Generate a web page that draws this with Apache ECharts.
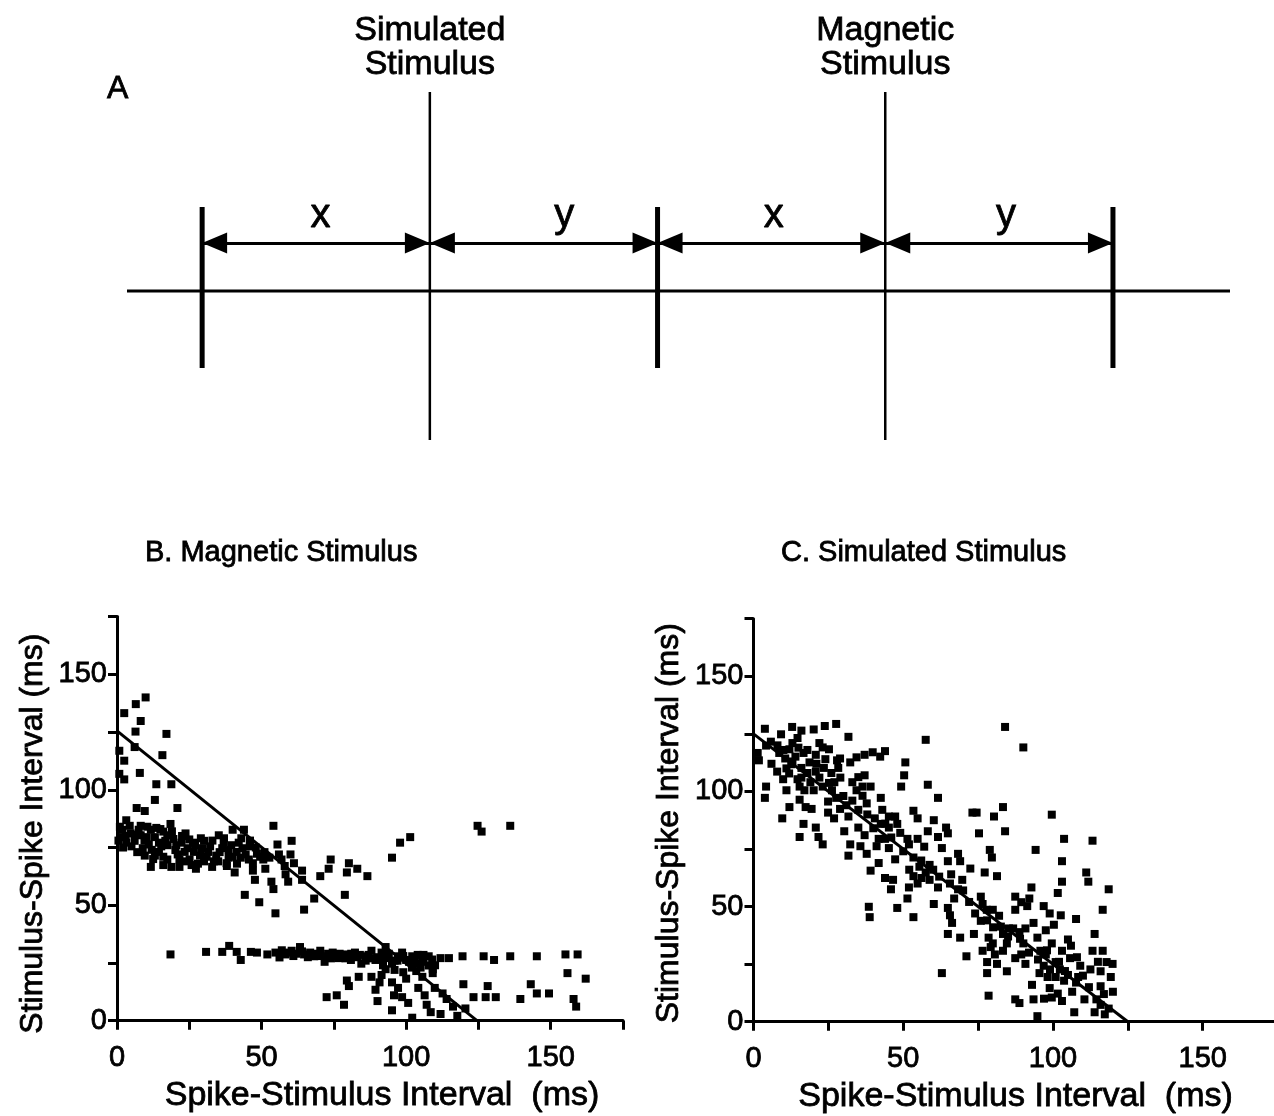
<!DOCTYPE html>
<html><head><meta charset="utf-8">
<script src="https://cdn.jsdelivr.net/npm/echarts@6/dist/echarts.min.js"></script>
<style>html,body{margin:0;padding:0;background:#fff}#c{width:1274px;height:1116px}</style>
</head><body><div id="c"></div>
<script>
// ---------------- Panel A: schematic timeline (time units) ----------------
const spikeTimes = [0, 200, 400];
const stimTimes = [100, 300];
const stimNames = ['Simulated\nStimulus', 'Magnetic\nStimulus'];
const intervalNames = ['x', 'y', 'x', 'y'];

// ---------------- Panel B: Magnetic stimulus [spike-stimulus, stimulus-spike] ----------------
const magneticPoints = [
[9.9,140.0],[6.5,137.1],[2.5,133.2],[8.2,129.8],[6.4,125.2],[17.1,124.2],[6.1,118.5],[0.8,116.9],[2.5,112.6],[15.7,115.0],
[7.9,107.3],[0.8,106.9],[2.5,104.5],[13.6,102.4],[18.8,102.4],[13.1,95.6],[20.9,92.1],[6.8,92.1],[9.6,90.8],
[3.2,86.8],[4.4,84.4],[1.8,82.7],[8.2,84.4],[13.6,83.5],[18.5,85.2],[16.0,81.9],[11.7,82.7],[8.2,80.3],[2.1,75.0],
[3.2,77.1],[6.1,77.9],[8.9,74.7],[11.0,76.3],[14.5,77.1],[16.7,77.9],[9.6,71.5],[11.7,66.6],[14.5,73.1],[17.4,69.8],
[18.8,66.6],[21.6,69.8],[20.2,73.9],[23.7,81.1],[26.3,77.1],[23.4,73.1],[27.3,65.8],[25.1,69.8],[30.1,77.9],[31.5,73.1],
[32.9,66.6],[28.7,71.5],[35.2,80.3],[36.4,74.7],[37.9,68.2],[40.0,82.7],[41.4,73.1],[43.9,82.7],[43.4,74.7],[45.6,69.8],
[40.7,64.2],[44.2,54.5],[48.4,72.3],[47.7,61.0],[49.2,51.3],[47.0,65.0],[51.3,65.8],[53.4,60.2],[54.1,84.4],[52.7,70.6],
[55.5,76.3],[54.1,57.0],[54.8,46.5],[56.9,69.8],[58.3,63.4],[60.4,77.9],[61.2,68.2],[59.2,60.2],[64.0,65.0],[64.7,48.1],
[64.0,61.0],[68.2,52.9],[70.3,62.6],[73.9,69.8],[73.2,65.8],[78.8,54.5],[80.2,68.2],[79.5,64.2],[83.1,65.8],[86.6,62.6],
[95.1,70.6],[97.9,77.1],[101.4,79.5],[124.7,84.4],[126.1,81.9],[136.0,84.4],
[1.8,79.5],[4.7,81.1],[7.5,82.7],[10.3,79.5],[13.1,79.5],[15.3,75.5],[17.4,80.3],[19.5,78.7],[22.3,77.1],[24.4,74.7],
[26.6,73.1],[29.4,74.7],[32.2,75.5],[34.3,71.5],[36.9,77.1],[38.6,70.6],[42.1,77.1],[45.9,75.5],[35.0,69.0],[30.1,69.0],
[21.6,66.6],[25.8,67.4],[13.1,71.5],[16.0,67.4],[47.0,68.2],[50.6,69.8],[38.6,73.9],[42.8,70.6],
[0.5,78.0],[1.0,84.0],[3.0,80.0],[5.0,75.5],[6.5,80.5],[7.0,73.0],[9.5,78.0],[10.5,84.0],[12.0,74.0],[12.5,70.0],
[15.0,83.0],[16.0,71.0],[17.5,76.0],[19.0,82.0],[20.5,76.0],[21.0,72.0],[22.5,80.0],[24.0,69.0],[25.0,78.5],[27.0,76.0],
[28.0,68.0],[29.0,79.0],[31.0,71.0],[33.0,78.0],[33.5,69.0],[35.5,73.0],[37.0,79.0],[38.0,67.0],[39.5,76.0],[40.0,71.0],
[41.5,68.0],[43.0,79.0],[44.5,72.0],[46.0,78.0],[48.0,75.0],[49.5,71.0],[51.0,73.0],[56.0,72.0],[58.0,67.0],[60.0,72.0],
[18.5,28.7],[30.8,29.8],[36.4,29.8],[38.8,32.4],[41.4,29.8],[42.8,26.3],[46.3,29.8],[48.4,29.5],[52.0,28.7],[54.8,29.5],
[56.2,27.4],[58.3,28.7],[60.4,30.3],[63.3,31.9],[64.7,28.7],[66.8,29.5],[68.2,27.9],[70.3,30.3],[71.8,25.5],[72.5,27.9],
[74.6,29.5],[76.7,27.1],[78.8,28.7],[80.9,26.3],[82.3,29.5],[84.5,24.7],[85.9,27.9],[88.0,30.3],[89.4,26.3],[91.5,29.5],
[92.9,31.9],[93.6,27.1],[95.1,24.7],[97.2,27.9],[98.6,29.5],[100.0,26.3],[102.1,27.9],[103.5,24.7],[105.6,27.1],[107.8,27.9],
[107.8,23.9],[111.9,27.1],[114.8,27.1],[119.5,27.9],[126.8,27.9],[130.4,26.3],[136.0,27.9],[145.2,27.9],[155.1,28.7],[159.3,28.7],
[155.8,20.6],[162.1,18.2],
[87.0,28.5],[90.0,27.5],[94.0,29.0],[96.0,26.0],[99.0,28.0],[101.0,25.5],[104.0,28.5],[106.0,25.5],[109.0,26.5],[110.0,24.0],
[96.0,22.0],[99.0,21.0],[102.0,23.0],[105.0,23.0],[86.0,26.0],[83.0,27.5],[77.0,29.0],[74.0,27.0],[69.0,29.0],[66.0,27.5],
[62.0,29.0],[59.0,29.5],[57.0,30.5],
[61.0,28.0],[64.0,30.0],[67.0,28.5],[70.0,28.0],[73.0,29.0],[76.0,28.0],[79.0,27.0],[81.0,29.0],[84.0,28.5],[88.0,27.0],
[91.0,27.0],[92.0,24.0],[97.0,26.0],[103.0,26.5],[106.0,28.5],
[72.5,10.2],[76.0,11.0],[78.5,6.9],[79.5,17.4],[80.2,15.0],[83.6,19.0],[88.0,19.0],[89.4,13.4],[90.1,8.5],[91.5,19.8],
[92.9,22.3],[95.1,16.6],[95.8,11.0],[95.1,4.5],[97.2,14.2],[98.6,10.2],[100.0,18.2],[100.7,7.7],[102.1,1.3],[103.5,21.5],
[104.2,14.2],[105.6,19.0],[106.4,11.0],[107.1,6.9],[108.5,3.7],[109.2,20.6],[109.9,14.2],[111.9,2.9],[112.6,11.8],[114.0,9.4],
[116.2,6.1],[117.7,2.1],[119.8,15.8],[120.5,5.3],[123.3,10.2],[127.5,10.2],[128.2,15.0],[131.0,10.2],[139.5,9.4],[143.1,15.8],
[145.2,11.8],[149.4,11.8],[157.9,9.4],[158.8,6.1],[109.2,22.3],[90.8,16.6]
];
const magneticFit = [[0, 125.5], [124.5, 0]];

// ---------------- Panel C: Simulated stimulus ----------------
const simulatedPoints = [
[3.8,127.2],[1.4,116.7],[1.8,113.5],[4.2,119.9],[5.8,121.6],[9.2,124.8],[12.9,128.0],[16.0,126.4],[20.1,126.9],[23.8,128.4],
[27.6,129.3],[31.7,123.7],[14.7,123.2],[8.6,116.7],[12.0,118.3],[14.0,115.1],[16.7,116.7],[18.7,112.6],[20.8,115.9],[23.1,119.1],
[25.2,118.3],[27.9,113.5],[23.5,110.2],[20.8,108.6],[16.0,110.2],[12.6,111.8],[10.6,114.3],[7.9,108.6],[9.9,105.3],[11.9,107.8],
[14.7,105.3],[17.0,100.5],[15.4,102.1],[4.2,102.1],[3.8,97.2],[11.0,100.5],[12.0,93.2],[9.6,88.3],[15.4,96.4],[17.4,93.2],
[19.4,92.4],[16.7,85.9],[15.4,80.2],[20.8,84.3],[23.1,77.0],[21.7,80.2],[20.1,100.5],[23.1,102.1],[25.2,103.7],[26.2,100.5],
[28.3,110.2],[28.9,114.3],[32.3,112.6],[34.4,114.8],[37.1,115.9],[39.8,117.0],[43.9,117.5],[42.3,115.1],[24.9,95.6],[27.6,97.2],
[28.9,92.4],[24.9,90.8],[26.9,88.3],[31.0,94.0],[31.7,89.1],[30.3,82.7],[32.3,77.0],[31.7,72.1],[34.4,100.5],[36.4,98.1],
[37.8,94.8],[35.0,106.2],[36.4,102.1],[37.1,107.0],[39.1,102.1],[35.0,84.3],[37.1,81.0],[35.7,76.2],[37.8,72.9],[39.1,65.6],
[41.8,68.9],[42.5,97.2],[40.5,88.3],[42.5,85.9],[41.8,79.4],[41.1,76.2],[45.2,89.1],[47.3,89.1],[48.0,85.9],[45.2,84.3],
[43.9,79.4],[45.2,75.4],[47.3,70.5],[43.9,62.4],[46.6,61.6],[45.9,57.5],[48.0,49.4],[38.5,49.9],[38.8,45.4],[53.4,45.4],
[49.3,102.1],[50.3,107.0],[50.7,112.6],[51.4,79.4],[51.9,77.0],[53.4,91.6],[54.8,88.3],[54.8,79.4],[53.4,71.3],[55.4,67.3],
[53.4,63.2],[51.9,58.3],[51.4,53.5],[54.8,60.0],[56.1,62.4],[57.5,122.4],[58.2,102.9],[58.2,82.7],[58.8,68.1],[58.8,61.6],
[57.5,64.8],[60.2,87.5],[61.6,80.2],[62.9,75.4],[64.3,84.3],[64.9,81.8],[61.6,97.2],[60.2,51.1],[62.9,21.1],[61.6,58.3],
[64.9,69.7],[65.6,60.0],[64.9,49.4],[65.6,46.2],[64.9,38.1],[66.3,42.9],[68.3,72.9],[69.0,69.7],[69.7,61.6],[68.3,57.5],
[67.0,53.5],[69.0,36.5],[71.1,28.4],[72.4,66.5],[73.1,90.8],[74.5,90.8],[75.3,81.8],[75.9,54.3],[76.5,51.1],[75.9,43.8],
[73.6,38.1],[76.5,30.8],[78.0,25.9],[80.3,89.1],[78.9,74.6],[79.6,71.3],[77.2,64.8],[81.3,63.2],[77.9,48.6],[79.9,48.6],
[78.5,36.5],[79.9,34.0],[80.6,29.2],[79.2,32.4],[78.0,21.1],[78.5,11.3],[81.3,25.1],[83.3,93.2],[84.0,128.0],[84.0,82.7],
[82.6,41.3],[83.3,38.1],[84.6,34.0],[84.6,21.9],[86.7,40.5],[87.4,54.3],[89.4,51.9],[90.1,119.1],[87.4,9.7],[88.8,8.1],
[90.1,34.0],[89.4,29.2],[90.8,25.1],[91.4,50.2],[92.1,53.5],[92.8,58.3],[93.5,42.9],[94.2,74.6],[94.8,2.4],[93.5,9.7],
[94.8,36.5],[95.8,30.8],[95.5,21.1],[96.9,50.2],[97.6,39.7],[98.2,19.4],[99.6,89.9],[98.9,47.0],[100.3,42.1],[99.6,34.0],
[100.9,25.9],[98.9,14.6],[99.6,10.5],[101.6,12.2],[100.9,19.4],[102.3,22.7],[103.0,69.7],[103.0,60.8],[101.6,55.9],[103.7,79.4],
[103.7,17.8],[103.0,30.8],[105.0,35.7],[106.4,13.0],[107.1,4.1],[107.7,44.6],[105.7,27.6],[109.1,24.3],[108.4,19.4],[110.5,9.7],
[111.1,64.8],[111.8,60.8],[113.2,78.6],[113.9,38.1],[113.2,30.8],[112.5,22.7],[113.9,4.1],[114.5,9.7],[116.6,48.6],[116.6,30.8],
[115.9,21.9],[115.9,15.4],[117.9,25.9],[118.6,57.5],[119.9,25.1],[119.3,19.4],[120.0,13.0],[118.6,5.7],[117.3,3.2],[115.9,7.3],
[102.6,46.2],[87.4,48.6],[85.3,40.5],[88.8,38.9],[90.8,40.5],[97.6,29.2],[96.9,24.3],[99.0,22.7],[105.0,20.3],[107.7,17.0],
[83.3,30.8],[87.4,27.6],
[6.0,112.0],[8.0,120.0],[10.0,118.0],[11.0,110.0],[13.0,113.0],[13.0,121.0],[15.0,119.0],[16.0,106.0],[18.0,108.0],[18.0,118.0],
[19.0,104.0],[21.0,112.0],[22.0,106.0],[22.0,121.0],[24.0,114.0],[26.0,108.0],[27.0,104.0],[29.0,106.0],[30.0,98.0],[33.0,96.0],
[33.0,104.0],[35.0,92.0],[38.0,90.0],[40.0,84.0],[43.0,92.0],[44.0,86.0],[46.0,80.0],[49.0,82.0],[50.0,74.0],[52.0,66.0],
[56.0,70.0],[57.0,76.0],[60.0,66.0],[62.0,63.0],[66.0,64.0],[70.0,57.0],[72.0,52.0],[74.0,47.0],[78.0,44.0],[80.0,41.0],
[82.0,46.0],[85.0,37.0],[89.0,36.0],[92.0,30.0],[95.0,27.0],[98.0,31.0],[102.0,26.0],[104.0,22.0],[106.0,33.0],[108.0,28.0],
[110.0,20.0],[112.0,15.0],[115.0,26.0],[117.0,12.0],[93.0,16.0],[97.0,10.0],[103.0,9.0]
];
const simulatedFit = [[0, 125], [125, 0]];

// ---------------- Axes text ----------------
const tickLabels = ['0', '50', '100', '150'];
const xAxisName = 'Spike-Stimulus Interval  (ms)';
const yAxisName = 'Stimulus-Spike Interval (ms)';
const panelTitles = ['A', 'B. Magnetic Stimulus', 'C. Simulated Stimulus'];

// ---------------- Layout (pixels / styling only) ----------------
const FONT = '"Liberation Sans", Arial, Helvetica, sans-serif';
const INK = { textBorderColor: '#000', textBorderWidth: 0.8 };
const LAY = {
  a: { left: 127, top: 92, width: 1103, height: 348, xMin: -33, xMax: 451.4, yMin: -149, yMax: 199,
       spikeExt: [-77, 84], stimExt: [-149, 199], arrowLevel: 48, labelLevel: 75, labelShift: [2, 9, 1, 3] },
  b: { left: 117, top: 616.6, width: 506, height: 404.1, xNameShift: 24, yNameShift: 30 },
  c: { left: 753.5, top: 618.7, width: 524.1, height: 403, xNameShift: 0, yNameShift: 6 }
};

const blk = '#000';
function plotAxes(gi, lay) {
  const common = {
    type: 'value', gridIndex: gi, min: 0, max: 175, interval: 25,
    axisLine: { show: true, onZero: false, lineStyle: { color: blk, width: 3 } },
    axisTick: { show: true, length: 9, lineStyle: { color: blk, width: 3 } },
    splitLine: { show: false },
    axisLabel: Object.assign({ color: blk, fontSize: 29, fontFamily: FONT,
                 formatter: v => tickLabels.includes(String(v)) ? String(v) : '' }, INK),
    nameLocation: 'middle'
  };
  const x = Object.assign({}, common, {
    name: xAxisName, nameGap: 58,
    axisLabel: Object.assign({}, common.axisLabel, { margin: 23 }),
    nameTextStyle: Object.assign({ color: blk, fontSize: 34, fontFamily: FONT, padding: [0, 0, 0, lay.xNameShift] }, INK)
  });
  const y = Object.assign({}, common, {
    name: yAxisName, nameGap: 68,
    axisLabel: Object.assign({}, common.axisLabel, { margin: 10, padding: [8, 0, 0, 0] }),
    nameTextStyle: Object.assign({ color: blk, fontSize: 32, fontFamily: FONT, padding: [0, lay.yNameShift, 0, 0] }, INK)
  });
  return [x, y];
}

const [bx, by] = plotAxes(1, LAY.b);
const [cx, cy] = plotAxes(2, LAY.c);

const series = [];
// Panel A baseline with double-headed interval arrows
const events = spikeTimes.concat(stimTimes).sort((p, q) => p - q);
const arrowSegs = [];
for (let i = 0; i < events.length - 1; i++) {
  arrowSegs.push([{ coord: [events[i], LAY.a.arrowLevel] }, { coord: [events[i + 1], LAY.a.arrowLevel] }]);
}
series.push({
  type: 'line', xAxisIndex: 0, yAxisIndex: 0, symbol: 'none', silent: true,
  data: [[LAY.a.xMin, 0], [LAY.a.xMax, 0]],
  lineStyle: { color: blk, width: 3 },
  markLine: {
    silent: true, animation: false,
    symbol: ['triangle', 'triangle'], symbolSize: [21, 25],
    symbolOffset: [[0, '50%'], [0, '50%']],
    label: { show: false },
    lineStyle: { color: blk, width: 3, type: 'solid' },
    emphasis: { disabled: true },
    data: arrowSegs
  }
});
spikeTimes.forEach(t => series.push({
  type: 'line', xAxisIndex: 0, yAxisIndex: 0, symbol: 'none', silent: true,
  data: [[t, LAY.a.spikeExt[0]], [t, LAY.a.spikeExt[1]]],
  lineStyle: { color: blk, width: 5, cap: 'butt' }
}));
stimTimes.forEach(t => series.push({
  type: 'line', xAxisIndex: 0, yAxisIndex: 0, symbol: 'none', silent: true,
  data: [[t, LAY.a.stimExt[0]], [t, LAY.a.stimExt[1]]],
  lineStyle: { color: blk, width: 2.5, cap: 'butt' }
}));
// stimulus names above the stimulus lines
series.push({
  type: 'scatter', xAxisIndex: 0, yAxisIndex: 0, silent: true,
  symbolSize: 0, itemStyle: { color: blk, opacity: 1 },
  data: stimTimes.map((t, i) => ({ value: [t, LAY.a.stimExt[1]], name: stimNames[i] })),
  label: Object.assign({ show: true, position: 'top', distance: 10, formatter: p => p.name,
           color: blk, fontSize: 34, lineHeight: 34, fontFamily: FONT, align: 'center' }, INK)
});
// x / y interval labels
series.push({
  type: 'scatter', xAxisIndex: 0, yAxisIndex: 0, silent: true,
  symbolSize: 0, itemStyle: { color: blk, opacity: 1 },
  data: intervalNames.map((n, i) => ({
    value: [(events[i] + events[i + 1]) / 2 + LAY.a.labelShift[i], LAY.a.labelLevel], name: n })),
  label: Object.assign({ show: true, position: 'inside', formatter: p => p.name,
           color: blk, fontSize: 40, fontFamily: FONT }, INK)
});

// Panels B and C
[[1, magneticPoints, magneticFit], [2, simulatedPoints, simulatedFit]].forEach(([gi, pts, fit]) => {
  series.push({
    type: 'scatter', xAxisIndex: gi, yAxisIndex: gi, silent: true,
    symbol: 'rect', symbolSize: 8, itemStyle: { color: blk, opacity: 1 },
    data: pts
  });
  series.push({
    type: 'line', xAxisIndex: gi, yAxisIndex: gi, silent: true, symbol: 'none',
    data: fit, lineStyle: { color: blk, width: 3 }
  });
});

const titleStyle = Object.assign({ color: blk, fontWeight: 'normal', fontFamily: FONT }, INK);
const option = {
  animation: false,
  backgroundColor: '#fff',
  title: [
    { text: panelTitles[0], left: 102, top: 68, textStyle: Object.assign({ fontSize: 32 }, titleStyle) },
    { text: panelTitles[1], left: 140, top: 533, textStyle: Object.assign({ fontSize: 29 }, titleStyle) },
    { text: panelTitles[2], left: 776, top: 533, textStyle: Object.assign({ fontSize: 29 }, titleStyle) }
  ],
  grid: [
    { left: LAY.a.left, top: LAY.a.top, width: LAY.a.width, height: LAY.a.height, containLabel: false, outerBoundsMode: 'none' },
    { left: LAY.b.left, top: LAY.b.top, width: LAY.b.width, height: LAY.b.height, containLabel: false, outerBoundsMode: 'none' },
    { left: LAY.c.left, top: LAY.c.top, width: LAY.c.width, height: LAY.c.height, containLabel: false, outerBoundsMode: 'none' }
  ],
  xAxis: [
    { type: 'value', gridIndex: 0, min: LAY.a.xMin, max: LAY.a.xMax, show: false },
    bx, cx
  ],
  yAxis: [
    { type: 'value', gridIndex: 0, min: LAY.a.yMin, max: LAY.a.yMax, show: false },
    by, cy
  ],
  series: series
};
const chart = echarts.init(document.getElementById('c'), null, { renderer: 'canvas' });
chart.setOption(option);
</script></body></html>
